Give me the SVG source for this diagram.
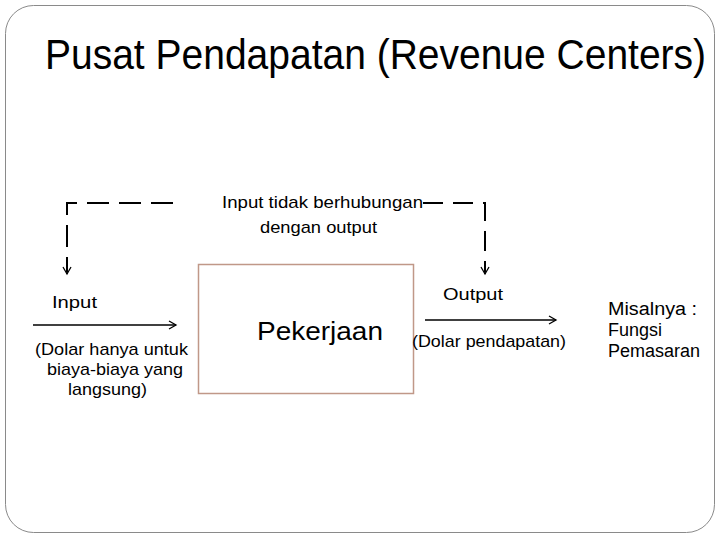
<svg xmlns="http://www.w3.org/2000/svg" width="720" height="540" viewBox="0 0 720 540">
<style>
text{font-family:"Liberation Sans",Arial,sans-serif;fill:#000}
.s{font-size:17px}
.dash{fill:none;stroke:#000;stroke-width:2}
.sol{fill:none;stroke:#000;stroke-width:1.6}
</style>
<defs>
<marker id="ah" markerWidth="10" markerHeight="10" refX="8" refY="5" orient="auto" markerUnits="userSpaceOnUse">
<path d="M1,1 L8,5 L1,9" fill="none" stroke="#000" stroke-width="1.3"/>
</marker>
</defs>
<rect x="5.5" y="5.5" width="709" height="527" rx="28" fill="#fff" stroke="#8a8a8a" stroke-width="1"/>
<text transform="translate(45,69) scale(1,1.08)" x="0" y="0" font-size="39">Pusat Pendapatan (Revenue Centers)</text>
<g id="connectors">
<path class="dash" d="M173,203 L67,203 L67,272" stroke-dasharray="22 10"/>
<path d="M67,262 L67,274" class="sol" marker-end="url(#ah)"/>
<path class="dash" d="M423,203 L485,203 L485,272" stroke-dasharray="20 10"/>
<path d="M485,262 L485,274" class="sol" marker-end="url(#ah)"/>
<path class="sol" d="M33,325 L176,325" marker-end="url(#ah)"/>
<path class="sol" d="M425,320 L556,320" marker-end="url(#ah)"/>
</g>
<g id="label-feedback">
<text class="s" x="222" y="208" textLength="201" lengthAdjust="spacingAndGlyphs">Input tidak berhubungan</text>
<text class="s" x="260" y="233" textLength="117" lengthAdjust="spacingAndGlyphs">dengan output</text>
</g>
<g id="node-pekerjaan">
<rect x="198.5" y="264.5" width="215" height="129" fill="#fff" stroke="#c09888" stroke-width="1.5"/>
<text x="257" y="340" font-size="26" textLength="126" lengthAdjust="spacingAndGlyphs">Pekerjaan</text>
</g>
<g id="label-input">
<text class="s" x="52" y="308" textLength="45" lengthAdjust="spacingAndGlyphs">Input</text>
<text class="s" x="35" y="355" textLength="153" lengthAdjust="spacingAndGlyphs">(Dolar hanya untuk</text>
<text class="s" x="47" y="375" textLength="136" lengthAdjust="spacingAndGlyphs">biaya-biaya yang</text>
<text class="s" x="68" y="395" textLength="79" lengthAdjust="spacingAndGlyphs">langsung)</text>
</g>
<g id="label-output">
<text class="s" x="443" y="300" textLength="60" lengthAdjust="spacingAndGlyphs">Output</text>
<text class="s" x="412" y="347" textLength="154" lengthAdjust="spacingAndGlyphs">(Dolar pendapatan)</text>
</g>
<g id="label-example">
<text x="608" y="315" font-size="18" textLength="89" lengthAdjust="spacingAndGlyphs">Misalnya :</text>
<text x="608" y="336" font-size="18">Fungsi</text>
<text x="608" y="357" font-size="18">Pemasaran</text>
</g>
</svg>
